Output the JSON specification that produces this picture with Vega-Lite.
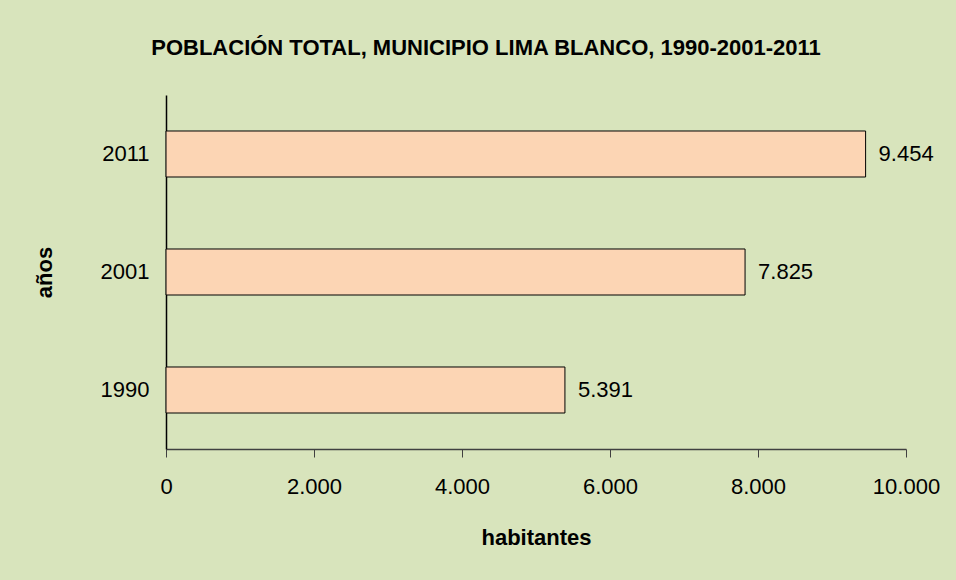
{
  "$schema": "https://vega.github.io/schema/vega-lite/v6.json",
  "autosize": "none",
  "width": 740,
  "height": 354,
  "padding": {"left": 166, "top": 95, "right": 50, "bottom": 131},
  "background": "#D8E4BC",
  "config": {
    "locale": {"number": {"decimal": ",", "thousands": ".", "grouping": [3], "currency": ["", " €"]}},
    "view": {"stroke": null},
    "font": "Liberation Sans"
  },
  "title": {
    "text": "POBLACIÓN TOTAL, MUNICIPIO LIMA BLANCO, 1990-2001-2011",
    "font": "Liberation Sans",
    "fontSize": 22,
    "fontWeight": "bold",
    "color": "#000000",
    "anchor": "middle",
    "dx": -50,
    "offset": 35
  },
  "data": {
    "values": [
      {"anio": "1990", "habitantes": 5391},
      {"anio": "2001", "habitantes": 7825},
      {"anio": "2011", "habitantes": 9454}
    ]
  },
  "encoding": {
    "y": {
      "field": "anio",
      "type": "nominal",
      "sort": ["2011", "2001", "1990"],
      "scale": {"paddingInner": 0.61, "paddingOuter": 0.305},
      "axis": {
        "title": "años",
        "titleFont": "Liberation Sans",
        "titleFontSize": 22,
        "titleFontWeight": "bold",
        "titleColor": "#000000",
        "titlePadding": 44,
        "labelFont": "Liberation Sans",
        "labelFontSize": 22,
        "labelColor": "#000000",
        "labelPadding": 17,
        "ticks": false,
        "domainColor": "#000000",
        "domainWidth": 1.5
      }
    },
    "x": {
      "field": "habitantes",
      "type": "quantitative",
      "scale": {"domain": [0, 10000], "nice": false},
      "axis": {
        "title": "habitantes",
        "titleFont": "Liberation Sans",
        "titleFontSize": 22,
        "titleFontWeight": "bold",
        "titleColor": "#000000",
        "titlePadding": 30,
        "values": [0, 2000, 4000, 6000, 8000, 10000],
        "format": ",.0f",
        "labelFont": "Liberation Sans",
        "labelFontSize": 22,
        "labelColor": "#000000",
        "labelPadding": 19,
        "labelFlush": false,
        "grid": false,
        "tickSize": 8,
        "tickColor": "#404040",
        "domainColor": "#404040",
        "domainWidth": 1.5
      }
    }
  },
  "layer": [
    {
      "mark": {"type": "bar", "fill": "#FCD5B4", "stroke": "#000000", "strokeWidth": 1}
    },
    {
      "mark": {"type": "text", "align": "left", "baseline": "middle", "dx": 13, "font": "Liberation Sans", "fontSize": 22, "color": "#000000"},
      "encoding": {
        "text": {"field": "habitantes", "type": "quantitative", "format": ",.0f"}
      }
    }
  ]
}
